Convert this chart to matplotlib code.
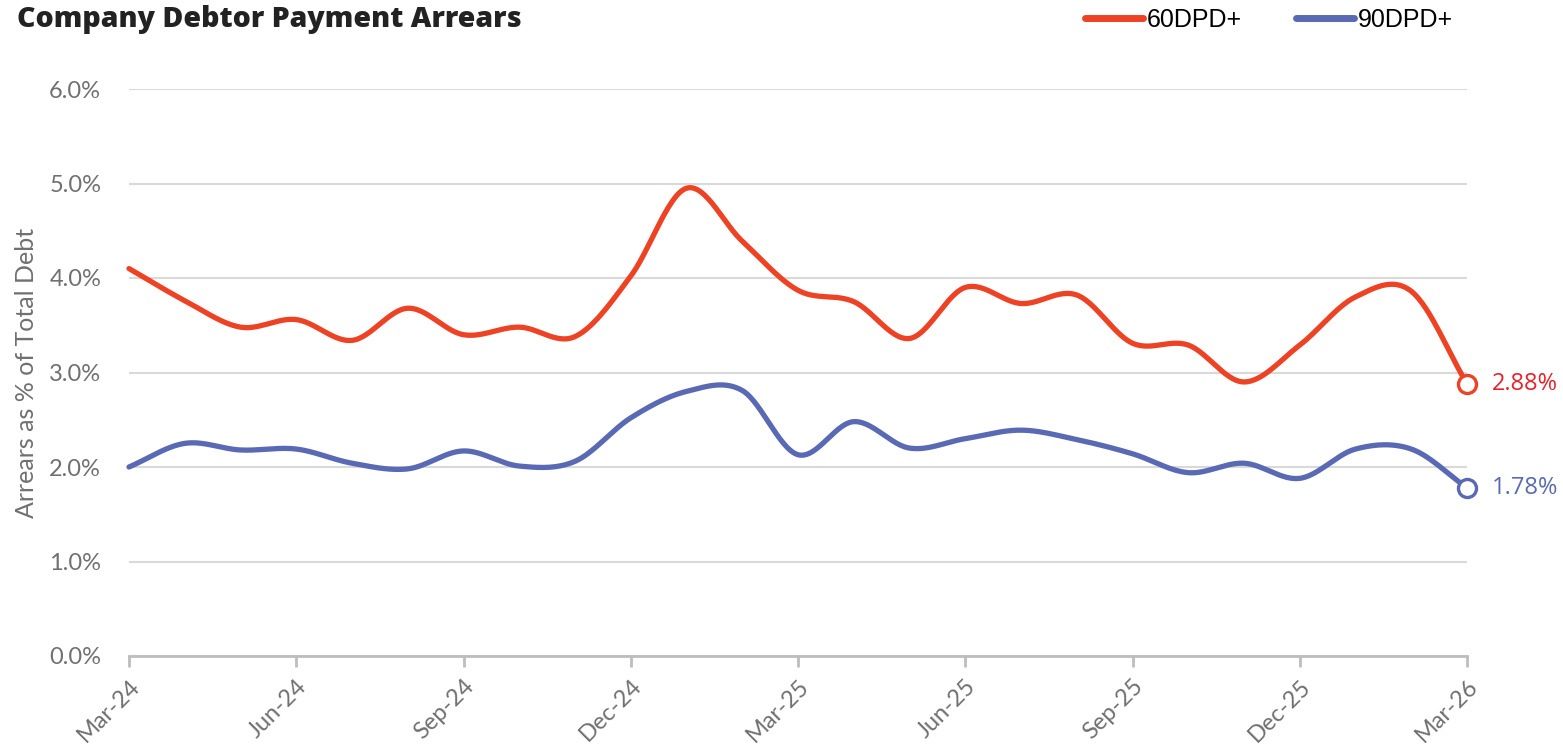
import numpy as np
import matplotlib
matplotlib.use("Agg")
import matplotlib.pyplot as plt
from matplotlib.lines import Line2D

# Monthly arrears, Mar-24 .. Mar-26 (% of total debt)
months = ["Mar-24", "Apr-24", "May-24", "Jun-24", "Jul-24", "Aug-24", "Sep-24",
          "Oct-24", "Nov-24", "Dec-24", "Jan-25", "Feb-25", "Mar-25", "Apr-25",
          "May-25", "Jun-25", "Jul-25", "Aug-25", "Sep-25", "Oct-25", "Nov-25",
          "Dec-25", "Jan-26", "Feb-26", "Mar-26"]
dpd60 = [4.10, 3.76, 3.48, 3.56, 3.34, 3.68, 3.40, 3.48, 3.38, 4.02, 4.95, 4.39,
         3.87, 3.75, 3.36, 3.90, 3.73, 3.82, 3.31, 3.29, 2.90, 3.29, 3.80, 3.86,
         2.88]
dpd90 = [2.00, 2.25, 2.18, 2.19, 2.04, 1.98, 2.17, 2.01, 2.06, 2.52, 2.80, 2.81,
         2.13, 2.48, 2.20, 2.30, 2.39, 2.29, 2.14, 1.94, 2.04, 1.88, 2.19, 2.19,
         1.78]
series_names = ["60DPD+", "90DPD+"]
yticks = [0, 1, 2, 3, 4, 5, 6]

RED = "#EE4224"
BLUE = "#5A69B4"
RED_TXT = "#E8222A"
GRID = "#D9D9D9"
AXIS = "#BDBDBD"
TICKTXT = "#707070"


def smooth(x, y, n=30):
    """Catmull-Rom spline through the points."""
    x = np.asarray(x, float)
    y = np.asarray(y, float)
    px = np.concatenate([[2 * x[0] - x[1]], x, [2 * x[-1] - x[-2]]])
    py = np.concatenate([[2 * y[0] - y[1]], y, [2 * y[-1] - y[-2]]])
    xs, ys = [], []
    t = np.linspace(0, 1, n, endpoint=False)
    for i in range(1, len(px) - 2):
        for arr, out in ((px, xs), (py, ys)):
            p0, p1, p2, p3 = arr[i - 1], arr[i], arr[i + 1], arr[i + 2]
            out.append(0.5 * ((2 * p1) + (-p0 + p2) * t
                              + (2 * p0 - 5 * p1 + 4 * p2 - p3) * t ** 2
                              + (-p0 + 3 * p1 - 3 * p2 + p3) * t ** 3))
    xs.append([x[-1]])
    ys.append([y[-1]])
    return np.concatenate(xs), np.concatenate(ys)


fig = plt.figure(figsize=(15.63, 7.44), dpi=100)
ax = fig.add_axes([129 / 1563, 1 - 656 / 744, (1467 - 129) / 1563, (656 - 89) / 744])

x = np.arange(len(months))
for vals, col in ((dpd60, RED), (dpd90, BLUE)):
    sx, sy = smooth(x, vals)
    ax.plot(sx, sy, color=col, lw=3.8, solid_capstyle="round", zorder=3,
            clip_on=False)
    ax.plot(x[-1], vals[-1], marker="o", ms=13, mfc="white", mec=col, mew=2.4,
            zorder=4, clip_on=False)

ax.annotate(f"{dpd60[-1]:.2f}%", (x[-1], dpd60[-1]), xytext=(18, 0),
            textcoords="offset points", va="center", ha="left", color=RED_TXT,
            fontsize=17, family="Open Sans")
ax.annotate(f"{dpd90[-1]:.2f}%", (x[-1], dpd90[-1]), xytext=(18, 0),
            textcoords="offset points", va="center", ha="left", color=BLUE,
            fontsize=17, family="Open Sans")

ax.set_xlim(0, len(months) - 1)
ax.set_ylim(0, 6)
ax.set_yticks(yticks)
ax.set_yticklabels([f"{v:.1f}%" for v in yticks], fontsize=17, color=TICKTXT,
                   family="Lato")
ax.tick_params(axis="y", length=0, pad=20)
ax.yaxis.grid(True, color=GRID, lw=1.5)
ax.set_axisbelow(True)

ax.set_xticks(x[::3])
ax.set_xticklabels(months[::3], rotation=45, ha="right", rotation_mode="anchor",
                   fontsize=17, color=TICKTXT, family="Lato")
ax.tick_params(axis="x", length=8, width=2, color=AXIS, pad=6)

for s in ("top", "right", "left"):
    ax.spines[s].set_visible(False)
ax.spines["bottom"].set_color(AXIS)
ax.spines["bottom"].set_linewidth(2)

ax.set_ylabel("Arrears as % of Total Debt", fontsize=18, color=TICKTXT,
              family="Lato")
ax.yaxis.set_label_coords(-0.068, 0.5)

fig.text(17 / 1563, 1 - 20 / 744, "Company Debtor Payment Arrears",
         fontsize=20.5, fontweight=800, family="Open Sans", color="#222222",
         va="center", ha="left")

handles = [Line2D([], [], color=RED, lw=5, solid_capstyle="round"),
           Line2D([], [], color=BLUE, lw=5, solid_capstyle="round")]
fig.legend(handles, series_names, loc="center left",
           bbox_to_anchor=(1085 / 1563, 1 - 20 / 744), ncol=2, frameon=False,
           handlelength=2.3, handletextpad=0.15, columnspacing=2.2,
           borderaxespad=0, borderpad=0,
           prop={"family": "Liberation Sans", "size": 18})

fig.savefig("out.png", dpi=100, facecolor="white")
